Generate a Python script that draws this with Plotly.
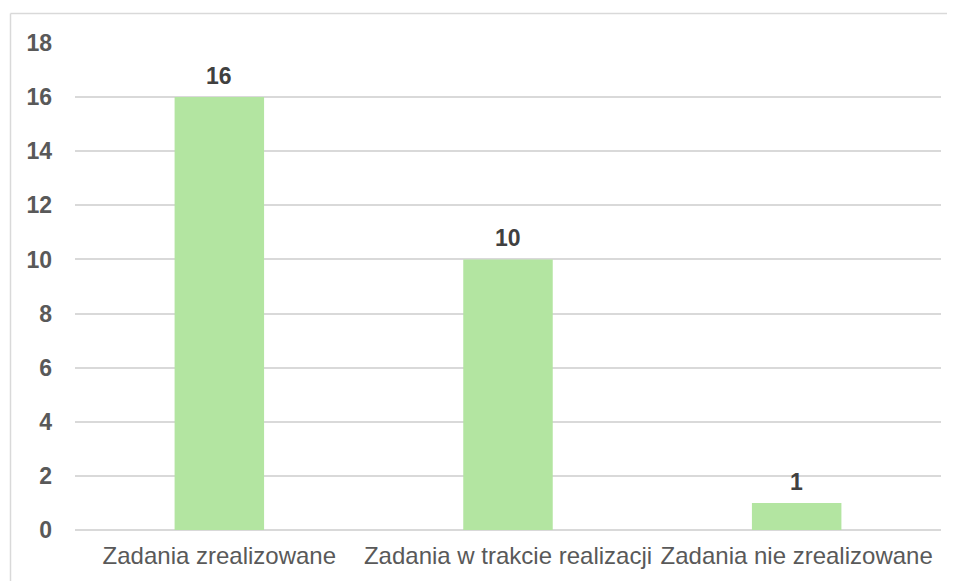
import plotly.graph_objects as go

categories = ["Zadania zrealizowane", "Zadania w trakcie realizacji", "Zadania nie zrealizowane"]
values = [16, 10, 1]
y_ticks = [0, 2, 4, 6, 8, 10, 12, 14, 16, 18]

BAR = "#B3E5A1"
TEXT = "#595959"
GRID = "#D9D9D9"
FONT = "Liberation Sans, Arial, sans-serif"

# page body has an 8px default margin, so the figure is drawn 8px in and 8px down
OFF = 8
W, H = 955 - OFF, 581 - OFF
L, R, T, B = 75 - OFF, 14, 43 - OFF, 51
PW = W - L - R
PH = H - T - B

fig = go.Figure()
fig.add_trace(go.Bar(
    x=categories, y=values, marker=dict(color=BAR, line=dict(width=0)),
    width=0.31, hoverinfo="skip",
))

for c, v in zip(categories, values):
    fig.add_annotation(x=c, y=v, text=f"<b>{v}</b>", showarrow=False,
                       yanchor="bottom", yshift=6,
                       font=dict(family=FONT, size=23, color="#404040"))

fig.update_layout(
    width=W, height=H,
    margin=dict(l=L, r=R, t=T, b=B),
    paper_bgcolor="white", plot_bgcolor="white",
    showlegend=False,
    font=dict(family=FONT, color=TEXT),
    shapes=[dict(type="line", xref="paper", yref="paper",
                 x0=(10.5 - 75) / PW, x1=2, y0=1 + (43 - 13.5) / PH, y1=1 + (43 - 13.5) / PH,
                 line=dict(color=GRID, width=1.5), layer="below"),
            dict(type="line", xref="paper", yref="paper",
                 x0=(10.5 - 75) / PW, x1=(10.5 - 75) / PW, y0=-0.3, y1=1 + (43 - 13.5) / PH,
                 line=dict(color=GRID, width=1.5), layer="below")],
)
fig.update_xaxes(
    tickangle=0, tickfont=dict(family=FONT, size=24, color=TEXT),
    showgrid=False, showline=False, ticks="", ticklabelstandoff=9,
)
fig.update_yaxes(
    range=[0, 18], tickvals=y_ticks, ticktext=[f"<b>{t}</b>" for t in y_ticks],
    tickfont=dict(family=FONT, size=23, color=TEXT),
    showgrid=True, gridcolor=GRID, gridwidth=1.5, zeroline=True, zerolinecolor=GRID,
    zerolinewidth=1.5, showline=False, ticks="", ticklabelstandoff=22,
)

fig.write_html("out.html")
